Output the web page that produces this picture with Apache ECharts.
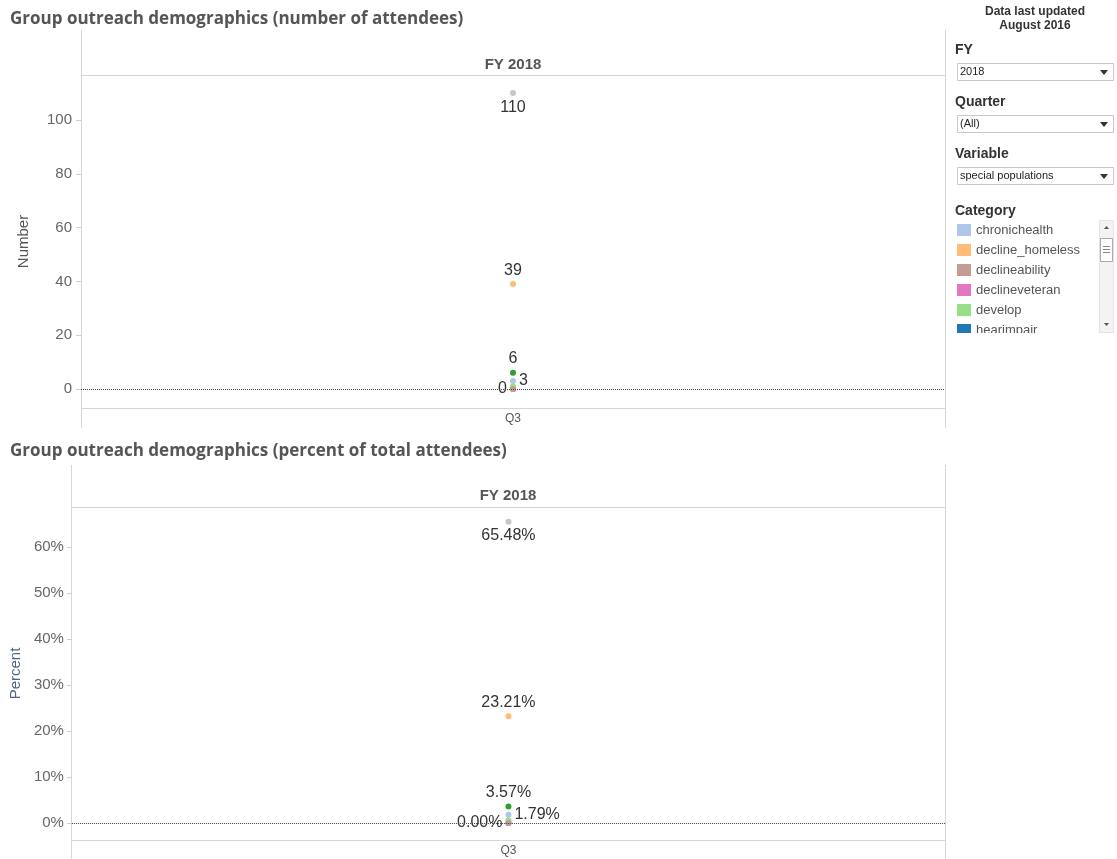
<!DOCTYPE html>
<html>
<head>
<meta charset="utf-8">
<script src="https://cdn.jsdelivr.net/npm/echarts@6/dist/echarts.min.js"></script>
<style>
html,body{margin:0;padding:0;background:#fff;}
#chart{width:1117px;height:859px;}
</style>
</head>
<body>
<div id="chart"></div>
<script>
// ---- data ----
const quarters = ['Q3'];
const categories = ['chronichealth', 'decline_homeless', 'declineability', 'declineveteran', 'develop', 'hearimpair', 'homeless', 'none'];
const counts = [3, 39, 0, 0, 1, 0, 6, 110];
const percents = [1.79, 23.21, 0.00, 0.00, 0.60, 0.00, 3.57, 65.48];
const countTicks = [0, 20, 40, 60, 80, 100];
const percentTicks = [0, 10, 20, 30, 40, 50, 60];
const legendShown = ['chronichealth', 'decline_homeless', 'declineability', 'declineveteran', 'develop', 'hearimpair'];
const filters = [['FY', '2018'], ['Quarter', '(All)'], ['Variable', 'special populations']];

// ---- styles ----
const colors = ['#aec7e8', '#ffbb78', '#c49c94', '#e377c2', '#98df8a', '#1f77b4', '#2ca02c', '#c7c7c7'];
const labelPos = ['right', 'top', 'left', null, null, null, 'top', 'bottom'];
const drawOrder = [7, 1, 6, 5, 3, 0, 4, 2];
const LF = 'Liberation Sans, Arial, sans-serif';

const chart = echarts.init(document.getElementById('chart'));

function makeSeries(gi, values, fmt) {
  return drawOrder.map(i => ({
    name: categories[i],
    type: 'scatter',
    xAxisIndex: gi, yAxisIndex: gi,
    symbolSize: 6,
    itemStyle: { color: colors[i], opacity: 1 },
    data: [[quarters[0], values[i]]],
    label: {
      show: !!labelPos[i],
      position: labelPos[i] || 'top',
      distance: 3,
      formatter: p => fmt(p.value[1]),
      fontFamily: LF, fontSize: 16, color: '#333'
    },
    emphasis: { disabled: true },
    z: 3
  }));
}

const zeroLine = (gi) => ({
  type: 'line', xAxisIndex: gi, yAxisIndex: gi, data: [],
  markLine: {
    silent: true, symbol: 'none', label: { show: false },
    lineStyle: { type: [1, 1], color: '#444', width: 1 },
    data: [{ yAxis: 0 }]
  },
  z: 1
});

const L = (x1, y1, x2, y2) => ({
  type: 'line', silent: true,
  shape: { x1: x1, y1: y1, x2: x2, y2: y2 },
  style: { stroke: '#d6d6d6', lineWidth: 1 }, z: 0
});

const graphics = [
  // top chart frame
  L(81.5, 30, 81.5, 428), L(945.5, 30, 945.5, 428),
  L(81, 75.5, 945, 75.5), L(81, 408.5, 945, 408.5),
  // bottom chart frame
  L(71.5, 465, 71.5, 859), L(945.5, 465, 945.5, 859),
  L(71, 507.5, 945, 507.5), L(71, 840.5, 945, 840.5),
  { type: 'text', x: 513, y: 65, style: { text: 'FY 2018', font: 'bold 15px ' + LF, fill: '#555', align: 'center', verticalAlign: 'middle' } },
  { type: 'text', x: 508, y: 496, style: { text: 'FY 2018', font: 'bold 15px ' + LF, fill: '#555', align: 'center', verticalAlign: 'middle' } },
  { type: 'text', x: 1035, y: 12, style: { text: 'Data last updated', font: 'bold 12px ' + LF, fill: '#333', align: 'center', verticalAlign: 'middle' } },
  { type: 'text', x: 1035, y: 26, style: { text: 'August 2016', font: 'bold 12px ' + LF, fill: '#333', align: 'center', verticalAlign: 'middle' } }
];

const filterY = [50, 102, 154];
filters.forEach((f, k) => {
  const y = filterY[k];
  graphics.push({ type: 'text', x: 955, y: y, style: { text: f[0], font: 'bold 14px ' + LF, fill: '#333', verticalAlign: 'middle' } });
  graphics.push({ type: 'rect', shape: { x: 957.5, y: y + 13.5, width: 156, height: 17 }, style: { fill: '#fff', stroke: '#c8c8c8', lineWidth: 1 } });
  graphics.push({ type: 'text', x: 960, y: y + 22, style: { text: f[1], font: '11px ' + LF, fill: '#222', verticalAlign: 'middle' } });
  graphics.push({ type: 'polygon', shape: { points: [[1100, y + 20], [1108, y + 20], [1104, y + 25]] }, style: { fill: '#333' } });
});

graphics.push({ type: 'text', x: 955, y: 211, style: { text: 'Category', font: 'bold 14px ' + LF, fill: '#333', verticalAlign: 'middle' } });
legendShown.forEach((name, k) => {
  const i = categories.indexOf(name);
  const y = 230 + k * 20;
  graphics.push({ type: 'rect', shape: { x: 957, y: y - 6, width: 14, height: 12 }, style: { fill: colors[i] } });
  graphics.push({ type: 'text', x: 976, y: y, style: { text: name, font: '13px ' + LF, fill: '#555', verticalAlign: 'middle' } });
});
// clip the last partial legend row
graphics.push({ type: 'rect', shape: { x: 950, y: 333, width: 150, height: 20 }, style: { fill: '#fff' }, z: 10 });
// scrollbar
graphics.push({ type: 'rect', shape: { x: 1099.5, y: 220.5, width: 14, height: 112 }, style: { fill: '#f3f3f3', stroke: '#e4e4e4' }, z: 11 });
graphics.push({ type: 'polygon', shape: { points: [[1104, 229], [1109, 229], [1106.5, 226]] }, style: { fill: '#555' }, z: 12 });
graphics.push({ type: 'polygon', shape: { points: [[1104, 323], [1109, 323], [1106.5, 326]] }, style: { fill: '#555' }, z: 12 });
graphics.push({ type: 'rect', shape: { x: 1100.5, y: 238.5, width: 12, height: 23 }, style: { fill: '#fff', stroke: '#aaa' }, z: 12 });
[246, 249, 252].forEach(yy => graphics.push({ type: 'line', shape: { x1: 1103, y1: yy + 0.5, x2: 1110, y2: yy + 0.5 }, style: { stroke: '#888' }, z: 13 }));

const yAxisBase = (ticks, fmt, margin) => ({
  type: 'value',
  axisLine: { show: false },
  splitLine: { show: false },
  axisTick: { show: true, length: 5, customValues: ticks, lineStyle: { color: '#cfcfcf' } },
  axisLabel: { customValues: ticks, formatter: fmt, color: '#666', fontSize: 15, fontFamily: LF, margin: margin },
  nameLocation: 'middle', nameRotate: 90,
  nameTextStyle: { fontSize: 15, fontFamily: LF }
});

const xAxisBase = () => ({
  type: 'category', data: quarters,
  axisLine: { show: false }, axisTick: { show: false },
  axisLabel: { color: '#555', fontSize: 12, fontFamily: LF, margin: 5 }
});

chart.setOption({
  animation: false,
  title: [
    { text: 'Group outreach demographics (number of attendees)', left: 5, top: 6, textStyle: { fontFamily: 'Open Sans', fontSize: 17, fontWeight: 'bold', color: '#555' } },
    { text: 'Group outreach demographics (percent of total attendees)', left: 5, top: 438, textStyle: { fontFamily: 'Open Sans', fontSize: 17, fontWeight: 'bold', color: '#555' } }
  ],
  grid: [
    { left: 81, right: 172, top: 75, height: 333 },
    { left: 71, right: 172, top: 507, height: 333 }
  ],
  xAxis: [Object.assign(xAxisBase(), { gridIndex: 0 }), Object.assign(xAxisBase(), { gridIndex: 1 })],
  yAxis: [
    Object.assign(yAxisBase(countTicks, v => String(v), 9), { gridIndex: 0, min: -7.06, max: 116.73, name: 'Number', nameGap: 50, nameTextStyle: { fontSize: 15, fontFamily: LF, color: '#555' } }),
    Object.assign(yAxisBase(percentTicks, v => v + '%', 8), { gridIndex: 1, min: -3.70, max: 68.70, name: 'Percent', nameGap: 47, nameTextStyle: { fontSize: 15, fontFamily: LF, color: '#4f6582' } })
  ],
  graphic: graphics,
  series: [zeroLine(0), zeroLine(1)]
    .concat(makeSeries(0, counts, v => String(v)))
    .concat(makeSeries(1, percents, v => v.toFixed(2) + '%'))
});
</script>
</body>
</html>
